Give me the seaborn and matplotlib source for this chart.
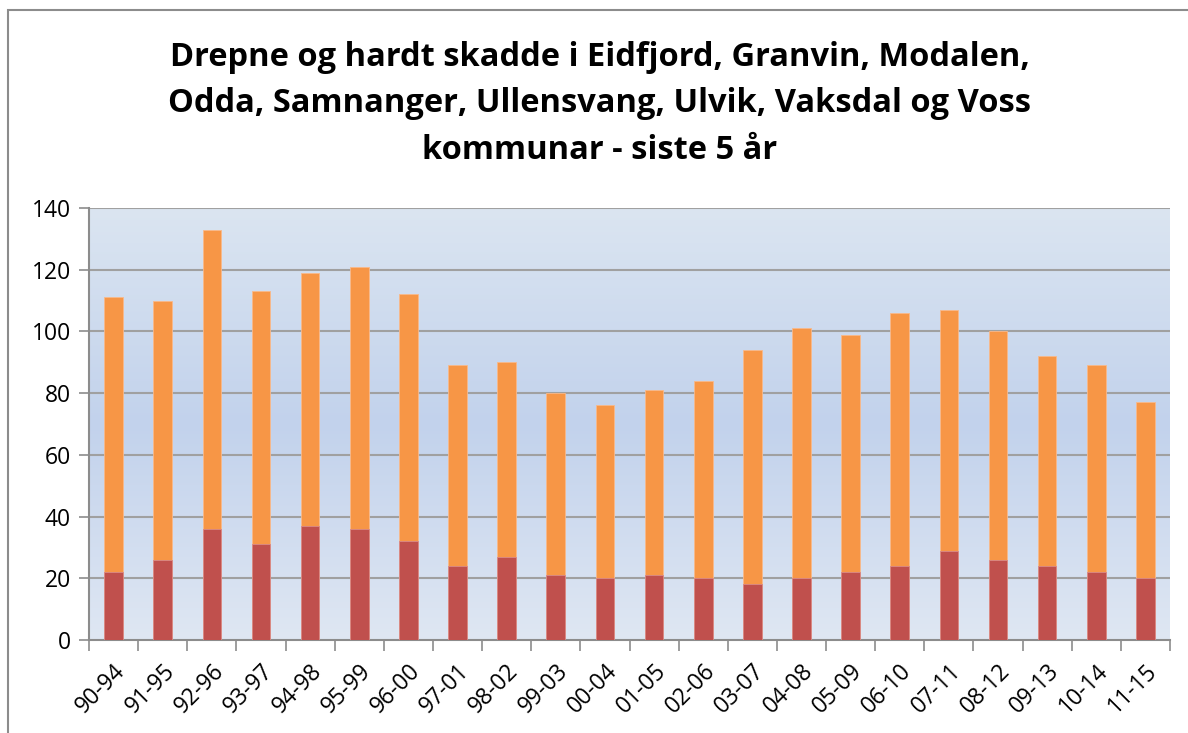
import numpy as np
import pandas as pd
import matplotlib
matplotlib.use("Agg")
import matplotlib.pyplot as plt
from matplotlib.colors import LinearSegmentedColormap
from matplotlib.patches import Rectangle
import seaborn as sns

periods = ["90-94", "91-95", "92-96", "93-97", "94-98", "95-99", "96-00", "97-01",
           "98-02", "99-03", "00-04", "01-05", "02-06", "03-07", "04-08", "05-09",
           "06-10", "07-11", "08-12", "09-13", "10-14", "11-15"]
drepne = [22, 26, 36, 31, 37, 36, 32, 24, 27, 21, 20, 21, 20, 18, 20, 22, 24, 29, 26, 24, 22, 20]
totalt = [111, 110, 133, 113, 119, 121, 112, 89, 90, 80, 76, 81, 84, 94, 101, 99, 106, 107, 100, 92, 89, 77]
title = "Drepne og hardt skadde i Eidfjord, Granvin, Modalen,\nOdda, Samnanger, Ullensvang, Ulvik, Vaksdal og Voss\nkommunar - siste 5 år"

df = pd.DataFrame({"periode": periods, "drepne": drepne, "totalt": totalt})

sns.set_theme(style="white")
plt.rcParams["font.family"] = ["Open Sans", "DejaVu Sans"]

fig = plt.figure(figsize=(11.88, 7.33), dpi=100)
W, H = 1188, 733
ax = fig.add_axes([89 / W, 1 - 640 / H, (1170 - 89) / W, (640 - 208) / H])

# outer chart frame (cropped on right/bottom)
fig.patches.append(Rectangle((8 / W, -0.1), 1.2, 1 - 10 / H + 0.1, transform=fig.transFigure,
                             fill=False, edgecolor="#8c8c8c", linewidth=1.5, zorder=0))

# gradient background
cmap = LinearSegmentedColormap.from_list("bg", ["#dfe7f3", "#c2d2ec", "#dbe5f1"])
grad = np.linspace(0, 1, 256).reshape(-1, 1)
ax.imshow(grad, extent=[-0.5, len(periods) - 0.5, 0, 140], aspect="auto",
          cmap=cmap, origin="lower", zorder=0)

ax.set_axisbelow(True)
for y in range(20, 141, 20):
    ax.axhline(y, color="#a0a0a0", linewidth=1.5, zorder=0.5)

sns.barplot(data=df, x="periode", y="totalt", color="#f79646", saturation=1,
            width=0.38, ax=ax, zorder=2, edgecolor="#f9b98a", linewidth=0.6)
sns.barplot(data=df, x="periode", y="drepne", color="#c0504d", saturation=1,
            width=0.38, ax=ax, zorder=3, edgecolor="#d98a88", linewidth=0.6)

ax.set_xlim(-0.5, len(periods) - 0.5)
ax.set_ylim(0, 140)
ax.set_yticks(range(0, 141, 20))
ax.set_xlabel("")
ax.set_ylabel("")

for s in ["top", "right"]:
    ax.spines[s].set_visible(False)
for s in ["left", "bottom"]:
    ax.spines[s].set_color("#8c8c8c")
    ax.spines[s].set_linewidth(1.5)

ax.tick_params(axis="y", which="major", direction="out", length=7, width=1.2,
               color="#8c8c8c", labelsize=16.5, labelcolor="black", pad=6, left=True)
ax.set_xticks(np.arange(len(periods)))
ax.set_xticklabels(periods, rotation=45, ha="right", rotation_mode="anchor", fontsize=16.5,
                   color="black")
ax.tick_params(axis="x", which="major", length=0, pad=14)
ax.set_xticks(np.arange(-0.5, len(periods)), minor=True)
ax.tick_params(axis="x", which="minor", direction="out", length=8, width=1.2,
               color="#8c8c8c", bottom=True)

fig.text(600 / W, 1 - 104 / H, title, ha="center", va="center", fontsize=23.5,
         fontweight="bold", linespacing=1.55, color="black")

fig.savefig("out.png", dpi=100, facecolor="white")
